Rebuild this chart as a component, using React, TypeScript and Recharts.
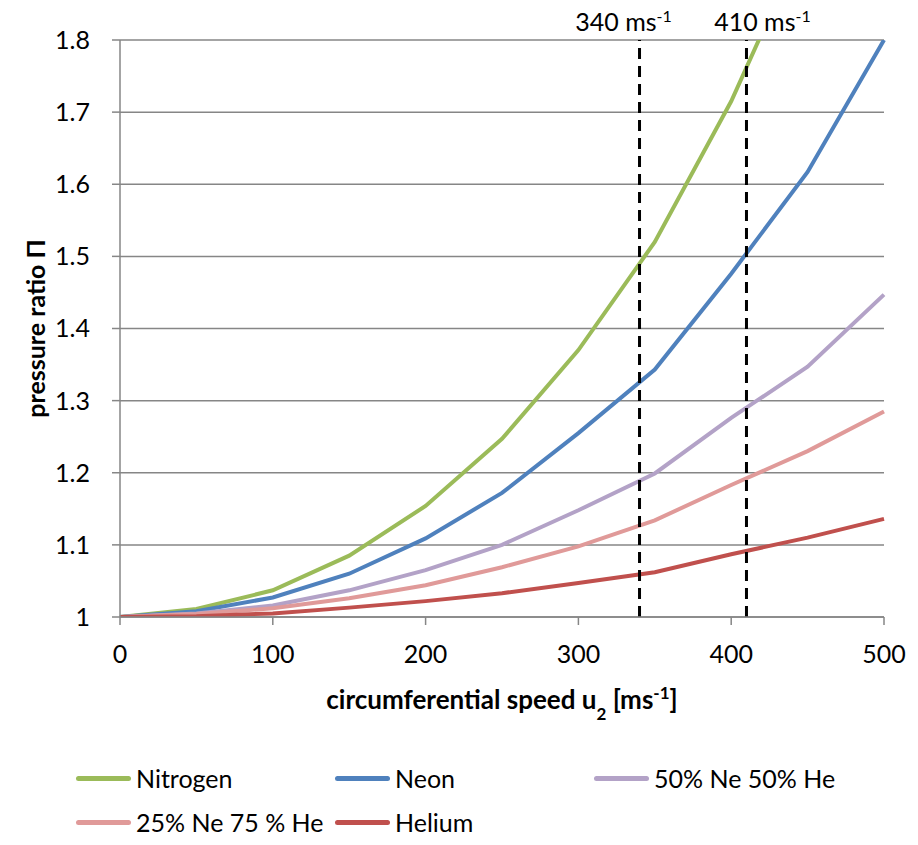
import React from 'react';
import { LineChart, Line, XAxis, YAxis, CartesianGrid, ReferenceLine, Label } from 'recharts';

// circumferential speed u2 [m/s]
const speeds = [0, 50, 100, 150, 200, 250, 300, 350, 400, 450, 500];

// pressure ratio per gas
const nitrogen = [1, 1.011, 1.037, 1.085, 1.154, 1.247, 1.37, 1.52, 1.715, 1.95, 2.22];
const neon = [1, 1.008, 1.027, 1.06, 1.109, 1.172, 1.255, 1.343, 1.476, 1.617, 1.8];
const neHe5050 = [1, 1.005, 1.016, 1.037, 1.065, 1.1, 1.148, 1.199, 1.276, 1.347, 1.447];
const neHe2575 = [1, 1.004, 1.012, 1.026, 1.044, 1.069, 1.098, 1.134, 1.183, 1.23, 1.285];
const helium = [1, 1.001, 1.005, 1.013, 1.022, 1.033, 1.047, 1.062, 1.087, 1.11, 1.136];

const seriesNames = ['Nitrogen', 'Neon', '50% Ne 50% He', '25% Ne 75 % He', 'Helium'];
const seriesValues = [nitrogen, neon, neHe5050, neHe2575, helium];
const seriesColors = ['#9BBB59', '#4F81BD', '#B3A2C7', '#E09A99', '#C0504D'];

const xTicks = [0, 100, 200, 300, 400, 500];
const yTicks = [1, 1.1, 1.2, 1.3, 1.4, 1.5, 1.6, 1.7, 1.8];

// speeds marked with dashed lines
const markerSpeeds = [340, 410];
const markerLabelShift = [-16, 16];

const FONT = 'Lato, "Open Sans", sans-serif';
const GRAY = '#868686';

const data = speeds.map((u, i) => {
  const row: Record<string, number> = { u };
  seriesNames.forEach((name, k) => {
    row[name] = seriesValues[k][i];
  });
  return row;
});

const yTitle = (props: any) => {
  const vb = props.viewBox;
  const cx = 27;
  const cy = vb.y + vb.height / 2;
  return (
    <text
      x={cx}
      y={cy}
      transform={`rotate(-90 ${cx} ${cy})`}
      textAnchor="middle"
      dominantBaseline="central"
      fontFamily={FONT}
      fontWeight="bold"
      fontSize={25}
      fill="#000"
    >
      pressure ratio Π
    </text>
  );
};

const xTitle = (props: any) => {
  const vb = props.viewBox;
  return (
    <text
      x={vb.x + vb.width / 2}
      y={vb.y + 92}
      textAnchor="middle"
      fontFamily={FONT}
      fontWeight="bold"
      fontSize={26}
      fill="#000"
    >
      circumferential speed u
      <tspan fontSize={17} baselineShift="sub">2</tspan>
      <tspan> [ms</tspan>
      <tspan fontSize={17} baselineShift="super">-1</tspan>
      <tspan>]</tspan>
    </text>
  );
};

const markerLabel = (shift: number, value: number) => (props: any) => {
  const vb = props.viewBox;
  return (
    <text
      x={vb.x + shift}
      y={vb.y - 9}
      textAnchor="middle"
      fontFamily={FONT}
      fontSize={25}
      fill="#000"
    >
      {value} ms
      <tspan fontSize={16} baselineShift="super">-1</tspan>
    </text>
  );
};

const ChartLegend = () => (
  <div
    style={{
      position: 'absolute',
      left: 68,
      top: 756,
      display: 'grid',
      gridTemplateColumns: 'repeat(3, 259px)',
      gridAutoRows: '44px',
      fontFamily: FONT,
      fontSize: 25,
      lineHeight: '30px',
    }}
  >
    {seriesNames.map((name, k) => (
      <div key={name} style={{ display: 'flex', alignItems: 'center', whiteSpace: 'nowrap' }}>
        <span
          style={{
            display: 'inline-block',
            flex: 'none',
            width: 55,
            height: 5,
            borderRadius: 3,
            background: seriesColors[k],
            marginRight: 5,
          }}
        />
        {name}
      </div>
    ))}
  </div>
);

export default function App() {
  return (
    <div style={{ position: 'relative', width: 902, height: 845, marginTop: -8, marginBottom: -8, overflow: 'hidden' }}>
      <div style={{ position: 'absolute', left: 0, top: 0 }}>
        <LineChart
          width={902}
          height={837}
          data={data}
          margin={{ top: 40, right: 26, left: 0, bottom: 120 }}
          style={{ overflow: 'visible' }}
        >
          <CartesianGrid vertical={false} stroke={GRAY} strokeWidth={1.5} />
          <XAxis
            dataKey="u"
            type="number"
            domain={[0, 500]}
            ticks={xTicks}
            height={100}
            tickSize={8}
            tickMargin={20}
            stroke={GRAY}
            strokeWidth={1.5}
            tick={{ fill: '#000', fontSize: 25, fontFamily: FONT }}
          >
            <Label content={xTitle} />
          </XAxis>
          <YAxis
            type="number"
            domain={[1, 1.8]}
            ticks={yTicks}
            allowDataOverflow
            width={112}
            tickSize={8}
            tickMargin={22}
            stroke={GRAY}
            strokeWidth={1.5}
            tickFormatter={(v: number) => (v === 1 ? '1' : v.toFixed(1))}
            tick={{ fill: '#000', fontSize: 25, fontFamily: FONT }}
          >
            <Label content={yTitle} />
          </YAxis>
          {seriesNames.map((name, k) => (
            <Line
              key={name}
              type="linear"
              dataKey={name}
              stroke={seriesColors[k]}
              strokeWidth={4}
              dot={false}
              activeDot={false}
              isAnimationActive={false}
            />
          ))}
          {markerSpeeds.map((s, i) => (
            <ReferenceLine
              key={s}
              x={s}
              stroke="#000"
              strokeWidth={3}
              strokeDasharray="11 7"
              label={markerLabel(markerLabelShift[i], s)}
            />
          ))}
        </LineChart>
      </div>
      <ChartLegend />
    </div>
  );
}
